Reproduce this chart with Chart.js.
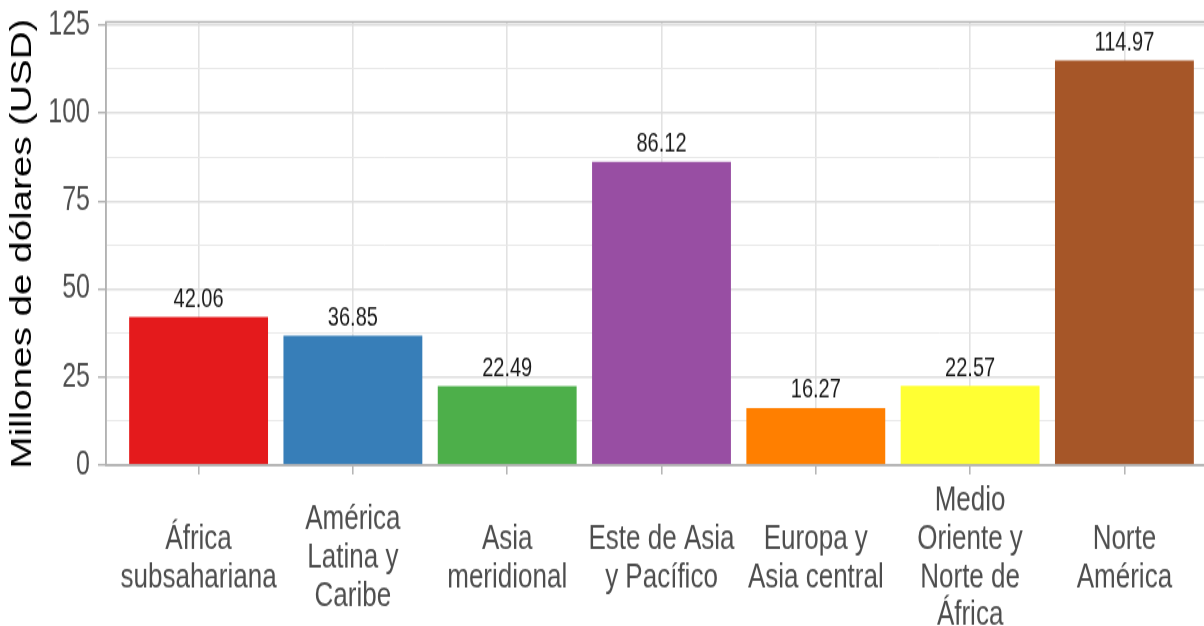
<!DOCTYPE html>
<html lang="es">
<head>
<meta charset="utf-8">
<title>Millones de dólares por región</title>
<script src="https://cdn.jsdelivr.net/npm/chart.js@4.4.1/dist/chart.umd.min.js"></script>
<style>
  html, body { margin: 0; padding: 0; background: #fff; }
  #marco { width: 1204px; height: 626px; overflow: hidden; position: relative; background: #fff; }
  /* el gráfico se dibuja más bajo y se estira en vertical */
  #lienzo { width: 1230px; height: 471px; transform: scale(1, 1.3291); transform-origin: 0 0; }
  #grafico { display: block; width: 1230px; height: 471px; }
</style>
</head>
<body>
<div id="marco">
  <div id="lienzo">
    <canvas id="grafico" width="1230" height="471"></canvas>
  </div>
</div>
<script>
// Datos por región
const categorias = [
    ['África', 'subsahariana'],
    ['América', 'Latina y', 'Caribe'],
    ['Asia', 'meridional'],
    ['Este de Asia', 'y Pacífico'],
    ['Europa y', 'Asia central'],
    ['Medio', 'Oriente y', 'Norte de', 'África'],
    ['Norte', 'América']
];
const valores = [42.06, 36.85, 22.49, 86.12, 16.27, 22.57, 114.97];
const colores = ['#E41A1C', '#377EB8', '#4DAF4A', '#984EA3', '#FF7F00', '#FFFF33', '#A65628'];
const ticksY = [0, 25, 50, 75, 100, 125];
const lineasY = [0, 12.5, 25, 37.5, 50, 62.5, 75, 87.5, 100, 112.5, 125];

const fuente = "'Liberation Sans', Arial, Helvetica, sans-serif";
const grisBorde = '#b3b3b3';

// Marco del panel
const marcoPanel = {
    id: 'marcoPanel',
    afterDraw(chart) {
        const { ctx, chartArea } = chart;
        ctx.save();
        ctx.strokeStyle = grisBorde;
        ctx.lineWidth = 1.5;
        ctx.strokeRect(chartArea.left, chartArea.top, chartArea.right - chartArea.left, chartArea.bottom - chartArea.top);
        ctx.restore();
    }
};

// Valor encima de cada barra
const etiquetasValor = {
    id: 'etiquetasValor',
    afterDatasetsDraw(chart) {
        const { ctx } = chart;
        const meta = chart.getDatasetMeta(0);
        ctx.save();
        ctx.font = `20px ${fuente}`;
        ctx.fillStyle = '#1a1a1a';
        ctx.textAlign = 'center';
        ctx.textBaseline = 'alphabetic';
        meta.data.forEach((barra, i) => {
            ctx.fillText(valores[i].toFixed(2), barra.x, barra.y - 7.5);
        });
        ctx.restore();
    }
};

// Nombres de región centrados en vertical bajo el eje
const etiquetasX = {
    id: 'etiquetasX',
    afterDraw(chart) {
        const { ctx } = chart;
        const escala = chart.scales.x;
        const centro = 420;
        const paso = 28.8;
        ctx.save();
        ctx.font = `26px ${fuente}`;
        ctx.fillStyle = '#4d4d4d';
        ctx.textAlign = 'center';
        ctx.textBaseline = 'middle';
        categorias.forEach((lineas, i) => {
            const x = escala.getPixelForValue(i);
            lineas.forEach((texto, j) => {
                const y = centro + (j - (lineas.length - 1) / 2) * paso;
                ctx.fillText(texto, x, y);
            });
        });
        ctx.restore();
    }
};

const datos = {
    datasets: [{
        data: valores.map((v, i) => ({ x: i, y: v })),
        backgroundColor: colores,
        borderWidth: 0,
        categoryPercentage: 1,
        barPercentage: 0.9
    }]
};

const ctx = document.getElementById('grafico').getContext('2d');

new Chart(ctx, {
    type: 'bar',
    data: datos,
    options: {
        responsive: false,
        animation: false,
        devicePixelRatio: 1,
        layout: {
            padding: { top: 16.5, right: 13, bottom: 114, left: 0 }
        },
        plugins: {
            legend: { display: false },
            tooltip: { enabled: false }
        },
        scales: {
            x: {
                type: 'linear',
                min: -0.6,
                max: 6.6,
                offset: false,
                afterBuildTicks: (escala) => {
                    escala.ticks = categorias.map((c, i) => ({ value: i }));
                },
                ticks: { display: false },
                grid: {
                    offset: false,
                    color: '#e2e2e2',
                    lineWidth: 1.6,
                    tickColor: grisBorde,
                    tickLength: 7,
                    tickWidth: 1.5
                },
                border: { color: grisBorde, width: 1.5 }
            },
            y: {
                min: 0,
                max: 125.9,
                afterBuildTicks: (escala) => {
                    escala.ticks = lineasY.map(v => ({ value: v }));
                },
                afterFit: (escala) => {
                    escala.width = 106;
                    escala.paddingTop = 0;
                    escala.paddingBottom = 0;
                },
                ticks: {
                    autoSkip: false,
                    padding: 8,
                    color: '#4d4d4d',
                    font: { family: fuente, size: 25 },
                    callback: (v) => ticksY.includes(v) ? String(v) : ''
                },
                grid: {
                    color: (c) => ticksY.includes(c.tick.value) ? '#dedede' : '#e8e8e8',
                    lineWidth: (c) => ticksY.includes(c.tick.value) ? 1.4 : 1,
                    tickColor: (c) => ticksY.includes(c.tick.value) ? grisBorde : 'rgba(0,0,0,0)',
                    tickLength: 8,
                    tickWidth: 1.5
                },
                border: { color: grisBorde, width: 1.5 },
                title: {
                    display: true,
                    text: 'Millones de dólares (USD)',
                    color: '#000',
                    font: { family: fuente, size: 29 },
                    padding: { top: 5.5, bottom: 0 }
                }
            }
        }
    },
    plugins: [marcoPanel, etiquetasValor, etiquetasX]
});
</script>
</body>
</html>
